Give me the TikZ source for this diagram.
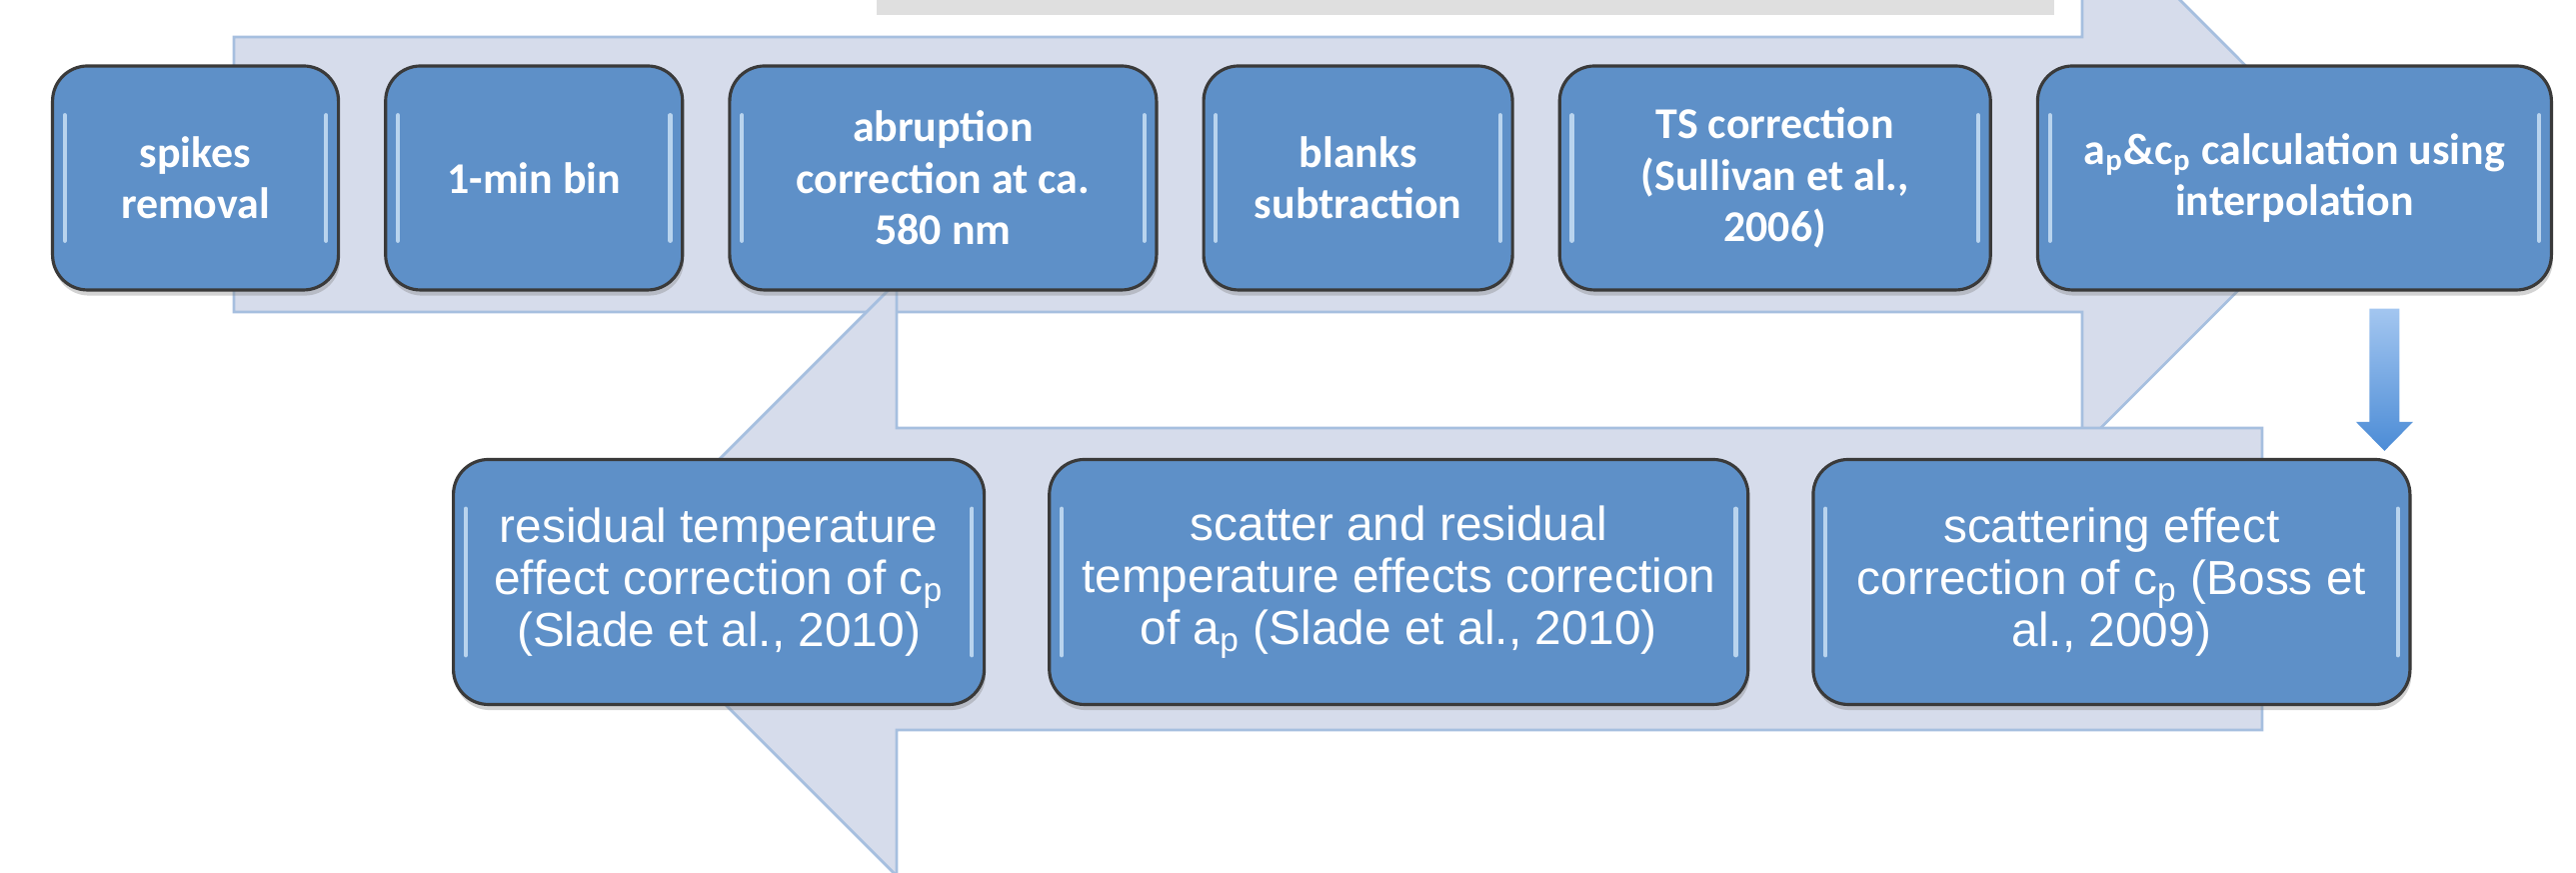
\documentclass[tikz,border=0pt]{standalone}
\usepackage{fontspec}
\setmainfont{Carlito}
\newfontfamily\helv{Liberation Sans}
\usetikzlibrary{positioning, shadows}

\definecolor{bandfill}{HTML}{D6DCEB}
\definecolor{bandline}{HTML}{A6BFDF}
\definecolor{boxfill}{HTML}{5E90C8}
\definecolor{boxline}{HTML}{3A3A3A}
\definecolor{barfill}{HTML}{DFDFDF}
\definecolor{glint}{HTML}{D8ECFC}
\definecolor{arrowtop}{HTML}{A3C6F0}
\definecolor{arrowbot}{HTML}{4C8CD6}

\begin{document}
\begin{tikzpicture}[%
    stepbox/.style={draw=boxline, fill=boxfill, line width=0.9pt,
      rounded corners=0.35cm, text=white, align=center, inner sep=2pt,
      font=\fontsize{12.5}{14.6}\selectfont\bfseries,
      drop shadow={shadow xshift=0.4pt, shadow yshift=-1.6pt, opacity=0.35},
      path picture={
        \draw[glint, opacity=0.75, line width=1.2pt, line cap=round]
          ([xshift=3.5pt, yshift=-14pt]path picture bounding box.north west)
          -- ([xshift=3.5pt, yshift=14pt]path picture bounding box.south west)
          ([xshift=-3.5pt, yshift=-14pt]path picture bounding box.north east)
          -- ([xshift=-3.5pt, yshift=14pt]path picture bounding box.south east);
      }},
    toprow/.style={stepbox, minimum height=2.24cm},
    lowrow/.style={stepbox, minimum height=2.45cm,
      font=\helv\fontsize{13.6}{14.8}\selectfont},
    band/.style={fill=bandfill, draw=bandline, line width=0.8pt}
  ]

  \clip (0,0) rectangle (25.77,8.73);
  \fill[barfill] (8.77,8.58) rectangle (20.55,8.73);

  \path[band] (2.34,8.36) -- (20.83,8.36) -- (20.83,9.71) -- (23.55,6.985)
    -- (20.83,4.265) -- (20.83,5.61) -- (2.34,5.61) -- cycle;
  \path[band] (22.63,4.45) -- (8.97,4.45) -- (8.97,5.91) -- (6.00,2.94)
    -- (8.97,-0.03) -- (8.97,1.43) -- (22.63,1.43) -- cycle;

  \node[toprow, minimum width=2.86cm, anchor=west] (spikes) at (0.51,6.95) {spikes\\removal};
  \node[toprow, minimum width=2.97cm, right=0.44cm of spikes] (bin) {1-min bin};
  \node[toprow, minimum width=4.27cm, right=0.44cm of bin] (abrupt) {abruption\\correction at ca.\\580 nm};
  \node[toprow, minimum width=3.09cm, right=0.44cm of abrupt] (blanks) {blanks\\subtraction};
  \node[toprow, minimum width=4.31cm, right=0.44cm of blanks] (tscorr) {TS correction\\(Sullivan et al.,\\2006)};
  \node[toprow, minimum width=5.14cm, right=0.44cm of tscorr] (calc) {a\textsubscript{p}\&c\textsubscript{p} calculation using\\interpolation};

  \node[lowrow, minimum width=5.31cm, anchor=west] (restemp) at (4.52,2.91) {residual temperature\\effect correction of c\textsubscript{p}\\(Slade et al., 2010)};
  \node[lowrow, minimum width=6.99cm, right=0.62cm of restemp] (scatres) {scatter and residual\\temperature effects correction\\of a\textsubscript{p} (Slade et al., 2010)};
  \node[lowrow, minimum width=5.97cm, right=0.62cm of scatres] (scateff) {scattering effect\\correction of c\textsubscript{p} (Boss et\\al., 2009)};

  \coordinate (dtop) at ([xshift=0.90cm, yshift=-0.17cm]calc.south);
  \path (scateff.north -| dtop) ++(0,0.07) coordinate (dtip);
  \shade[top color=arrowtop, bottom color=arrowbot]
    ([xshift=-0.15cm]dtop) -- ([xshift=0.15cm]dtop)
    -- ([xshift=0.15cm, yshift=0.29cm]dtip) -- ([xshift=0.285cm, yshift=0.29cm]dtip)
    -- (dtip) -- ([xshift=-0.285cm, yshift=0.29cm]dtip)
    -- ([xshift=-0.15cm, yshift=0.29cm]dtip) -- cycle;
\end{tikzpicture}
\end{document}
